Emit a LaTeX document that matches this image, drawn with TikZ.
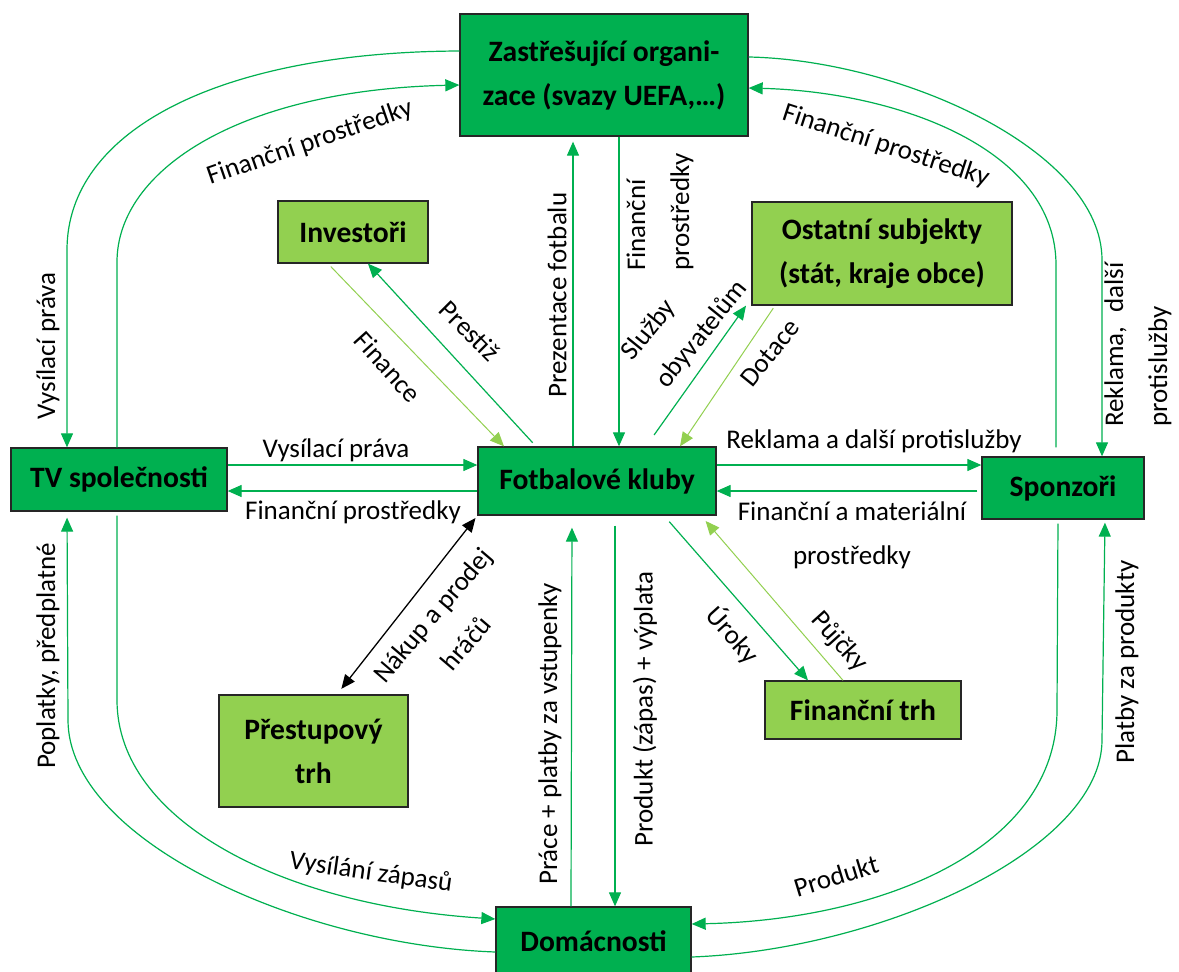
\documentclass[tikz,border=0pt]{standalone}
\usepackage{fontspec}
\setmainfont{Carlito}
\usetikzlibrary{arrows.meta,calc}
\definecolor{dg}{HTML}{00B050}
\definecolor{lg}{HTML}{92D050}
\definecolor{bd}{HTML}{262626}
\begin{document}
\begin{tikzpicture}[x=1pt,y=-1pt,
  box/.style={draw=bd,line width=1.3pt,inner sep=0pt,align=center,font=\fontsize{29.6}{44}\selectfont\bfseries},
  dbox/.style={box,fill=dg},
  lbox/.style={box,fill=lg},
  tip/.style={-{Triangle[length=14pt,width=12pt]}},
  con/.style={draw=dg,line width=1.2pt,tip},
  lcon/.style={draw=lg,line width=1pt,tip},
  lab/.style={font=\fontsize{27}{44}\selectfont,inner sep=0pt}
]
\fill[white] (0,0) rectangle (1179,972);
\useasboundingbox (0,0) rectangle (1179,972);

% nodes
\node[dbox,minimum width=288pt,minimum height=122pt] (top) at (604,75) {Zastřešující organi-\\zace (svazy UEFA,…)};
\node[lbox,minimum width=150pt,minimum height=62pt] (inv) at (353,232) {Investoři};
\node[lbox,minimum width=260pt,minimum height=103pt] (ost) at (882,253.5) {Ostatní subjekty\\(stát, kraje obce)};
\node[dbox,minimum width=216pt,minimum height=63pt] (tv) at (119,479.5) {TV společnosti};
\node[dbox,minimum width=238pt,minimum height=68pt] (fk) at (597,481) {Fotbalové kluby};
\node[dbox,minimum width=162pt,minimum height=62pt] (sp) at (1063,488) {Sponzoři};
\node[lbox,minimum width=189pt,minimum height=112pt] (pt) at (313.5,751) {Přestupový\\trh};
\node[lbox,minimum width=196pt,minimum height=58pt] (ft) at (863,710) {Finanční trh};
\node[dbox,minimum width=195pt,minimum height=68pt] (dom) at (593.5,941) {Domácnosti};

% top <-> TV
\draw[con] (top.west |- 0,51) .. controls (220,52) and (67,130) .. (67,250) -- (tv.north -| 67,0);
\draw[con] (tv.north -| 117,0) -- (117,262) .. controls (117,170) and (240,90) .. (top.west |- 0,85);
% top <-> sponzori
\draw[con] (top.east |- 0,57) .. controls (900,60) and (1102,150) .. (1102,260) -- (sp.north -| 1102,0);
\draw[con,shorten <=9pt] (sp.north -| 1056,0) -- (1056,265) .. controls (1056,150) and (900,92) .. (top.east |- 0,88);
% top <-> fk
\draw[con,shorten >=5pt] (fk.north -| 573,0) -- (top.south -| 573,0);
\draw[con] (top.south -| 619,0) -- (fk.north -| 619,0);
% investori
\draw[lcon,shorten <=4pt] (inv.south -| 328,0) -- (fk.north -| 504,0);
\draw[con,shorten <=5pt] (fk.north -| 536,0) -- (inv.south -| 368,0);
% ostatni
\draw[con,shorten <=14pt] (fk.north -| 646,0) -- (ost.south -| 746,0);
\draw[lcon,shorten <=3pt] (ost.south -| 775,0) -- (fk.north -| 680,0);
% horizontals
\draw[con] (tv.east |- 0,465) -- (fk.west |- 0,465);
\draw[con] (fk.west |- 0,491) -- (tv.east |- 0,491);
\draw[con] (fk.east |- 0,465) -- (sp.west |- 0,465);
\draw[con,shorten <=4pt] (sp.west |- 0,491) -- (fk.east |- 0,491);
% prestupovy
\draw[black,line width=1.3pt,{Triangle[length=14pt,width=12pt]}-{Triangle[length=14pt,width=12pt]},shorten <=3pt,shorten >=7pt] (fk.south west) -- (pt.north -| 337,0);
% financni trh
\draw[con,shorten <=8pt] (fk.south -| 664,0) -- (ft.north -| 808,0);
\draw[lcon,shorten >=7pt] (ft.north -| 843,0) -- (fk.south -| 701,0);
% domacnosti <-> fk
\draw[con,shorten >=12pt] (dom.north -| 571,0) -- (fk.south -| 572,0);
\draw[con,shorten <=10pt] (fk.south -| 615,0) -- (dom.north -| 615,0);
% TV <-> domacnosti
\draw[con,shorten >=6pt] (dom.west |- 0,952) .. controls (300,945) and (68,840) .. (68,720) -- (tv.south -| 67,0);
\draw[con,shorten <=4pt] (tv.south -| 117,0) -- (117,700) .. controls (117,820) and (280,905) .. (dom.west |- 0,919);
% sponzori <-> domacnosti
\draw[con,shorten <=4pt] (sp.south -| 1058,0) -- (1057,710) .. controls (1057,850) and (880,920) .. (dom.east |- 0,924);
\draw[con,shorten >=3pt] (dom.east |- 0,957) .. controls (880,950) and (1102,850) .. (1102,740) -- (sp.south -| 1105,0);

% labels
\node[lab,rotate=19] at (310,143) {Finanční prostředky};
\node[lab,rotate=-18] at (886,146) {Finanční prostředky};
\node[lab,rotate=90] at (48,346) {Vysílací práva};
\node[lab,rotate=-48] at (388,367) {Finance};
\node[lab,rotate=-45] at (470,331) {Prestiž};
\node[lab,rotate=90] at (557,295) {Prezentace fotbalu};
\node[lab,rotate=90,align=left] at (660,212) {Finanční\\prostředky};
\node[lab,rotate=51,align=left] at (685,321) {Služby\\obyvatelům};
\node[lab,rotate=51] at (770,353) {Dotace};
\node[lab,rotate=90,align=left] at (1138,344.5) {Reklama,\hspace{14pt}další\\protislužby};
\node[lab] at (336,450) {Vysílací práva};
\node[lab] at (353,512) {Finanční prostředky};
\node[lab] at (874,441) {Reklama a další protislužby};
\node[lab,align=center] at (852,535.5) {Finanční a materiální\\prostředky};
\node[lab,rotate=49.5,align=center] at (449,629) {Nákup a prodej\\hráčů};
\node[lab,rotate=-48] at (733,635) {Úroky};
\node[lab,rotate=-48] at (839,642) {Půjčky};
\node[lab,rotate=90] at (48,656) {Poplatky, předplatné};
\node[lab,rotate=90] at (550,734) {Práce + platby za vstupenky};
\node[lab,rotate=90] at (645,709) {Produkt (zápas) + výplata};
\node[lab,rotate=90] at (1127,662) {Platby za produkty};
\node[lab,rotate=-8] at (371,873) {Vysílání zápasů};
\node[lab,rotate=17] at (836,876) {Produkt};
\end{tikzpicture}
\end{document}
